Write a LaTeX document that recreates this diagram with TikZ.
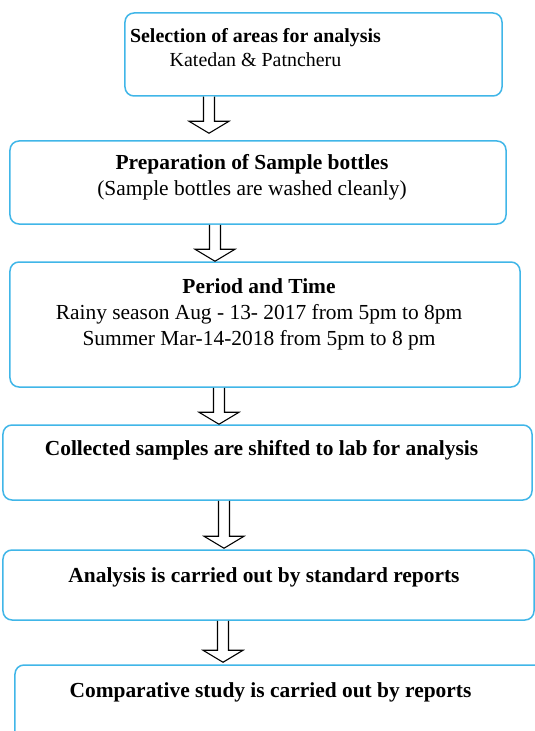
\documentclass[tikz,border=0pt]{standalone}
\usepackage{fontspec}
\setmainfont{Liberation Serif}
\usetikzlibrary{calc}

\definecolor{boxblue}{RGB}{64,182,232}

\tikzset{
  flowbox/.style={draw=boxblue, line width=1.5bp, rounded corners=9bp, inner sep=0pt},
  flowtext/.style={align=center, anchor=north, inner sep=0pt},
  smalltext/.style={font=\fontsize{20}{24}\selectfont},
  bigtext/.style={font=\fontsize{21.5}{26}\selectfont},
  hollow/.style={draw=black, line width=1.1bp, fill=white, line join=miter},
}

% Hollow block arrow: [tip gap] x, from box, to box.
\newcommand{\blockarrow}[4][0]{%
  \draw[hollow] let \p1=(#2,0 |- #3.south), \p2=(#2,0 |- #4.north) in
    (\x1-5.5bp,\y1) -- (\x1-5.5bp,\y2+#1bp+12bp) -- (\x1-20bp,\y2+#1bp+12bp)
    -- (\x1,\y2+#1bp) -- (\x1+20bp,\y2+#1bp+12bp) -- (\x1+5.5bp,\y2+#1bp+12bp)
    -- (\x1+5.5bp,\y1);
}

\begin{document}
\begin{tikzpicture}[x=1bp, y=-1bp]
    \useasboundingbox (0,0) rectangle (535,731);

    % Draw the boxes.
    \node[flowbox, minimum width=377bp, minimum height=83bp] (box1) at (313.5,54.5) {};
    \node[flowbox, minimum width=496bp, minimum height=83bp] (box2) at (258,182.5) {};
    \node[flowbox, minimum width=510bp, minimum height=125bp] (box3) at (265,324.5) {};
    \node[flowbox, minimum width=529bp, minimum height=75bp] (box4) at (267.5,462.5) {};
    \node[flowbox, minimum width=531bp, minimum height=70bp] (box5) at (268.5,585) {};
    \node[flowbox, minimum width=530bp, minimum height=80bp] (box6) at (280,705) {};

    % Draw the texts.
    \node[flowtext, smalltext] (sel) at (255.5,28.4)
        {\textbf{Selection of areas for analysis}\\Katedan \& Patncheru};
    \node[flowtext, bigtext] (prep) at (252,154.4)
        {\textbf{Preparation of Sample bottles}\\(Sample bottles are washed cleanly)};
    \node[flowtext, bigtext] (period) at (259,278.4)
        {\textbf{Period and Time}\\Rainy season Aug - 13- 2017 from 5pm to 8pm\\Summer Mar-14-2018 from 5pm to 8 pm};
    \node[flowtext, bigtext] (collect) at (261.5,440.4)
        {\textbf{Collected samples are shifted to lab for analysis}};
    \node[flowtext, bigtext] (analysis) at (264,567.4)
        {\textbf{Analysis is carried out by standard reports}};
    \node[flowtext, bigtext] (compare) at (270.5,682.4)
        {\textbf{Comparative study is carried out by reports}};

    % Draw the arrows.
    \blockarrow[7]{209}{box1}{box2}
    \blockarrow{215}{box2}{box3}
    \blockarrow{219}{box3}{box4}
    \blockarrow[1]{224}{box4}{box5}
    \blockarrow[2]{223}{box5}{box6}
\end{tikzpicture}
\end{document}
